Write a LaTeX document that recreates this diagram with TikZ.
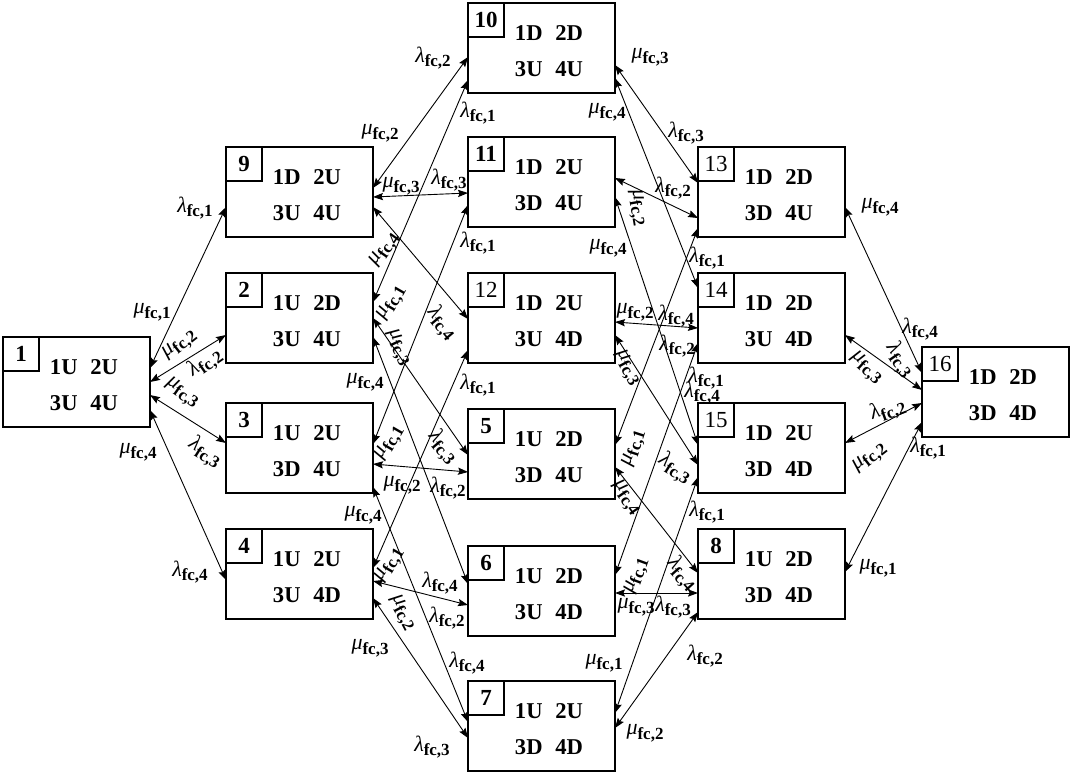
\documentclass[tikz,border=0pt]{standalone}
\usepackage{fontspec}
\setmainfont{Liberation Serif}
\usetikzlibrary{calc,arrows.meta}
\tikzset{
 box/.style={draw, line width=0.6pt, minimum width=73.5pt, minimum height=45pt, inner sep=0pt, outer sep=0pt},
 numbox/.style={draw, line width=0.6pt, minimum width=18pt, minimum height=17pt, inner sep=0pt, outer sep=0pt, font=\fontsize{11.5}{12}\selectfont, anchor=north west},
 st/.style={font=\fontsize{11.3}{12}\selectfont\bfseries, inner sep=0pt},
 conn/.style={line width=0.45pt, {Stealth[length=5pt,width=3.6pt,inset=0.8pt]}-{Stealth[length=5pt,width=3.6pt,inset=0.8pt]}},
 lab/.style={inner sep=0pt, font=\fontsize{11}{12}\selectfont},
}
\newcommand\stbox[6]{%
 \node[box] (#1) at (#2,#3+45) {};
 \node[numbox] (#1n) at (#1.north west) {#4};
 \node[st] (#1a) at ($(#1.north west)+(81,30)$) {#5};
 \node[st] (#1b) at ($(#1.north west)+(81,66)$) {#6};
}
\newcommand\pr[2]{#1\hspace{6.4pt}#2}
\newcommand\llab[1]{{\itshape λ}\raisebox{-2.4pt}{\fontsize{8.5}{9}\selectfont\bfseries fc,#1}}
\newcommand\mlab[1]{{\itshape μ}\raisebox{-2.4pt}{\fontsize{8.5}{9}\selectfont\bfseries fc,#1}}
\newcommand\edg[4]{\draw[conn] ($(#1.north east)+(0,#2)$) -- ($(#3.north west)+(0,#4)$);}
\begin{document}
\begin{tikzpicture}[x=0.5pt,y=-0.5pt]
\useasboundingbox (0,0) rectangle (1071,773);
% states
\stbox{s1}{76.5}{337}{\textbf{1}}{\pr{1U}{2U}}{\pr{3U}{4U}}
\stbox{s9}{299.5}{147}{\textbf{9}}{\pr{1D}{2U}}{\pr{3U}{4U}}
\stbox{s2}{299.5}{273}{\textbf{2}}{\pr{1U}{2D}}{\pr{3U}{4U}}
\stbox{s3}{299.5}{403}{\textbf{3}}{\pr{1U}{2U}}{\pr{3D}{4U}}
\stbox{s4}{299.5}{529}{\textbf{4}}{\pr{1U}{2U}}{\pr{3U}{4D}}
\stbox{s10}{541.5}{3}{\textbf{10}}{\pr{1D}{2D}}{\pr{3U}{4U}}
\stbox{s11}{541.5}{137}{\textbf{11}}{\pr{1D}{2U}}{\pr{3D}{4U}}
\stbox{s12}{541.5}{273}{12}{\pr{1D}{2U}}{\pr{3U}{4D}}
\stbox{s5}{541.5}{409}{\textbf{5}}{\pr{1U}{2D}}{\pr{3D}{4U}}
\stbox{s6}{541.5}{546}{\textbf{6}}{\pr{1U}{2D}}{\pr{3U}{4D}}
\stbox{s7}{541.5}{681}{\textbf{7}}{\pr{1U}{2U}}{\pr{3D}{4D}}
\stbox{s13}{771.5}{147}{13}{\pr{1D}{2D}}{\pr{3D}{4U}}
\stbox{s14}{771.5}{273}{14}{\pr{1D}{2D}}{\pr{3U}{4D}}
\stbox{s15}{771.5}{403}{15}{\pr{1D}{2U}}{\pr{3D}{4D}}
\stbox{s8}{771.5}{529}{\textbf{8}}{\pr{1U}{2D}}{\pr{3D}{4D}}
\stbox{s16}{995.5}{347}{16}{\pr{1D}{2D}}{\pr{3D}{4D}}
% connectors
\edg{s1}{31}{s9}{60}
\edg{s1}{45}{s2}{62}
\edg{s1}{58}{s3}{40}
\edg{s1}{73}{s4}{51}
\edg{s9}{41}{s10}{54}
\edg{s9}{50}{s11}{56}
\edg{s9}{60}{s12}{46}
\edg{s2}{29}{s10}{77}
\edg{s2}{45}{s5}{46}
\edg{s2}{64}{s6}{38}
\edg{s3}{41}{s11}{68}
\edg{s3}{61}{s5}{63}
\edg{s3}{84}{s7}{41}
\edg{s4}{39}{s12}{77}
\edg{s4}{52}{s6}{59}
\edg{s4}{69}{s7}{57}
\edg{s10}{62}{s13}{36}
\edg{s10}{75}{s14}{15}
\edg{s11}{41}{s13}{71}
\edg{s11}{60}{s15}{42}
\edg{s12}{49}{s14}{55}
\edg{s12}{62}{s15}{62}
\edg{s5}{36}{s13}{81}
\edg{s5}{58}{s8}{44}
\edg{s6}{29}{s14}{70}
\edg{s6}{47}{s8}{64}
\edg{s7}{32}{s15}{74}
\edg{s7}{47}{s8}{83}
\edg{s13}{60}{s16}{26}
\edg{s14}{62}{s16}{43}
\edg{s15}{40}{s16}{56}
\edg{s8}{43}{s16}{75}
% labels
\node[lab] (l1) at (152,312) {\mlab{1}};
\node[lab,rotate=38] (l2) at (180,345) {\mlab{2}};
\node[lab,rotate=35] (l3) at (205,363) {\llab{2}};
\node[lab,rotate=-35] (l4) at (182,393) {\mlab{3}};
\node[lab,rotate=-32] (l5) at (205,452) {\llab{3}};
\node[lab] (l6) at (138,452) {\mlab{4}};
\node[lab] (l7) at (195,208) {\llab{1}};
\node[lab] (l8) at (190,572) {\llab{4}};
\node[lab] (l9) at (380,133) {\mlab{2}};
\node[lab] (l10) at (433,58) {\llab{2}};
\node[lab] (l11) at (401,186) {\mlab{3}};
\node[lab] (l12) at (449,180) {\llab{3}};
\node[lab] (l13) at (478,113) {\llab{1}};
\node[lab,rotate=55] (l14) at (385,250) {\mlab{4}};
\node[lab,rotate=60] (l15) at (392,303) {\mlab{1}};
\node[lab,rotate=-50] (l16) at (442,323) {\llab{4}};
\node[lab,rotate=-65] (l17) at (398,348) {\mlab{3}};
\node[lab] (l18) at (478,243) {\llab{1}};
\node[lab] (l19) at (365,382) {\mlab{4}};
\node[lab] (l20) at (478,385) {\llab{1}};
\node[lab,rotate=60] (l21) at (390,443) {\mlab{1}};
\node[lab,rotate=-50] (l22) at (443,447) {\llab{3}};
\node[lab] (l23) at (402,485) {\mlab{2}};
\node[lab] (l24) at (448,488) {\llab{2}};
\node[lab] (l25) at (363,515) {\mlab{4}};
\node[lab,rotate=60] (l26) at (390,565) {\mlab{1}};
\node[lab] (l27) at (440,583) {\llab{4}};
\node[lab,rotate=-62] (l28) at (402,613) {\mlab{2}};
\node[lab] (l29) at (447,618) {\llab{2}};
\node[lab] (l30) at (370,648) {\mlab{3}};
\node[lab] (l31) at (467,663) {\llab{4}};
\node[lab] (l32) at (432,747) {\llab{3}};
\node[lab] (l33) at (650,57) {\mlab{3}};
\node[lab] (l34) at (607,112) {\mlab{4}};
\node[lab] (l35) at (686,133) {\llab{3}};
\node[lab] (l36) at (673,188) {\llab{2}};
\node[lab,rotate=-80] (l37) at (637,208) {\mlab{2}};
\node[lab] (l38) at (608,248) {\mlab{4}};
\node[lab] (l39) at (707,258) {\llab{1}};
\node[lab] (l40) at (635,312) {\mlab{2}};
\node[lab] (l41) at (676,316) {\llab{4}};
\node[lab] (l42) at (677,346) {\llab{2}};
\node[lab,rotate=-62] (l43) at (627,368) {\mlab{3}};
\node[lab] (l44) at (706,378) {\llab{1}};
\node[lab] (l45) at (702,393) {\llab{4}};
\node[lab,rotate=72] (l46) at (634,448) {\mlab{1}};
\node[lab,rotate=-32] (l47) at (675,468) {\llab{3}};
\node[lab,rotate=-55] (l48) at (626,498) {\mlab{4}};
\node[lab] (l49) at (707,512) {\llab{1}};
\node[lab,rotate=70] (l50) at (637,576) {\mlab{1}};
\node[lab,rotate=-48] (l51) at (682,574) {\llab{4}};
\node[lab] (l52) at (636,607) {\mlab{3}};
\node[lab] (l53) at (673,607) {\llab{3}};
\node[lab] (l54) at (705,656) {\llab{2}};
\node[lab] (l55) at (604,663) {\mlab{1}};
\node[lab] (l56) at (645,733) {\mlab{2}};
\node[lab] (l57) at (880,207) {\mlab{4}};
\node[lab] (l58) at (920,329) {\llab{4}};
\node[lab,rotate=-55] (l59) at (900,360) {\llab{3}};
\node[lab,rotate=-42] (l60) at (866,368) {\mlab{3}};
\node[lab,rotate=20] (l61) at (888,410) {\llab{2}};
\node[lab,rotate=38] (l62) at (870,458) {\mlab{2}};
\node[lab] (l63) at (928,448) {\llab{1}};
\node[lab] (l64) at (878,568) {\mlab{1}};
\end{tikzpicture}
\end{document}
